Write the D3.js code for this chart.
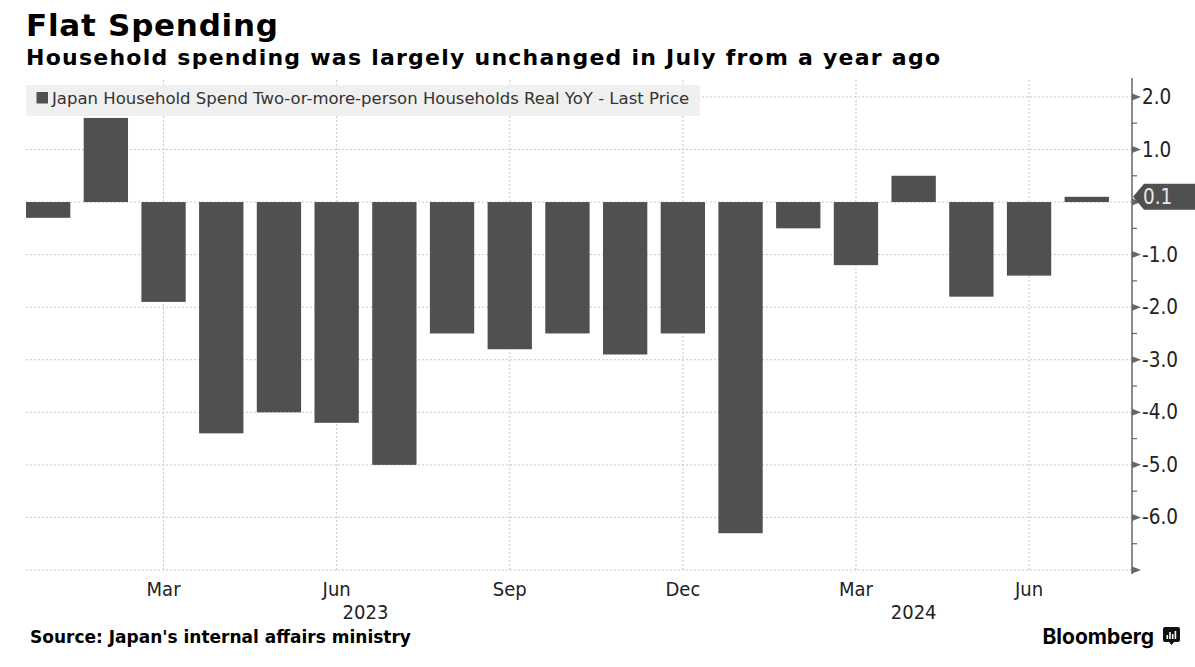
<!DOCTYPE html>
<html>
<head>
<meta charset="utf-8">
<script src="https://cdn.jsdelivr.net/npm/d3@7"></script>
<style>
  body { margin: 0; background: #fff; }
  svg { display: block; }
</style>
</head>
<body>
<svg id="chart" width="1195" height="667"></svg>
<script>
// monthly readings, Jan 2023 .. Jul 2024
const months = ["Jan 2023", "Feb 2023", "Mar 2023", "Apr 2023", "May 2023", "Jun 2023",
  "Jul 2023", "Aug 2023", "Sep 2023", "Oct 2023", "Nov 2023", "Dec 2023",
  "Jan 2024", "Feb 2024", "Mar 2024", "Apr 2024", "May 2024", "Jun 2024", "Jul 2024"];
const values = [-0.3, 1.6, -1.9, -4.4, -4.0, -4.2, -5.0, -2.5, -2.8, -2.5, -2.9, -2.5,
  -6.3, -0.5, -1.2, 0.5, -1.8, -1.4, 0.1];
const years = ["2023", "2024"];
const xTicks = ["Mar 2023", "Jun 2023", "Sep 2023", "Dec 2023", "Mar 2024", "Jun 2024"];
const yTicks = [-7, -6, -5, -4, -3, -2, -1, 0, 1, 2];
const yMinor = [-6.5, -5.5, -4.5, -3.5, -2.5, -1.5, -0.5, 0.5, 1.5];

const svg = d3.select("#chart");
const barColor = "#505050";
const narrow = "'DejaVu Sans Condensed', 'DejaVu Sans', sans-serif";
const plain = "'DejaVu Sans', sans-serif";

const left = 26, axisX = 1132;

const x = d3.scaleBand()
    .domain(months)
    .range([19.3, 1115.6])
    .paddingInner(0.232)
    .paddingOuter(0.116);

const y = d3.scaleLinear()
    .domain([-7, 2.36])
    .range([570, 78]);

const fmt = d3.formatLocale({decimal: ".", thousands: ",", grouping: [3], currency: ["", ""], minus: "-"}).format(".1f");

// title block
svg.append("text")
    .attr("x", 26).attr("y", 36)
    .attr("font-family", plain).attr("font-weight", "bold")
    .attr("font-size", 31).attr("fill", "#000")
    .attr("textLength", 252).attr("lengthAdjust", "spacing")
    .text("Flat Spending");

svg.append("text")
    .attr("x", 26).attr("y", 65)
    .attr("font-family", plain).attr("font-weight", "bold")
    .attr("font-size", 22).attr("fill", "#000")
    .attr("textLength", 914).attr("lengthAdjust", "spacing")
    .text("Household spending was largely unchanged in July from a year ago");

// gridlines
const grid = svg.append("g").attr("stroke", "#c8c8c8").attr("stroke-dasharray", "2,2");
grid.selectAll("line.h")
    .data(yTicks)
    .enter().append("line")
    .attr("x1", left).attr("x2", axisX)
    .attr("y1", d => y(d)).attr("y2", d => y(d));
grid.selectAll("line.v")
    .data(xTicks)
    .enter().append("line")
    .attr("x1", d => x(d) + x.bandwidth() / 2).attr("x2", d => x(d) + x.bandwidth() / 2)
    .attr("y1", 80).attr("y2", 570);

// bars
svg.append("g").selectAll("rect")
    .data(values)
    .enter().append("rect")
    .attr("x", (d, i) => x(months[i]))
    .attr("width", x.bandwidth())
    .attr("y", d => y(Math.max(0, d)))
    .attr("height", d => Math.abs(y(d) - y(0)))
    .attr("fill", barColor);

// legend
const legend = svg.append("g");
legend.append("rect")
    .attr("x", left).attr("y", 85).attr("width", 674).attr("height", 31)
    .attr("fill", "#eeeeee").attr("opacity", 0.9);
legend.append("rect")
    .attr("x", 36.5).attr("y", 92).attr("width", 11.5).attr("height", 11.5)
    .attr("fill", barColor);
legend.append("text")
    .attr("x", 52).attr("y", 104)
    .attr("font-family", plain).attr("font-size", 16.5).attr("fill", "#333")
    .text("Japan Household Spend Two-or-more-person Households Real YoY - Last Price");

// y axis on the right (0 label sits under the last-value tag)
const yAxis = svg.append("g")
    .attr("transform", `translate(${axisX},0)`)
    .call(d3.axisRight(y).tickValues(yTicks).tickSize(0).tickPadding(10)
        .tickFormat(d => (d === -7 || d === 0) ? "" : fmt(d)));
yAxis.select(".domain").remove();
yAxis.selectAll("text")
    .attr("font-family", narrow).attr("font-size", 20.5).attr("fill", "#222");

svg.append("line")
    .attr("x1", axisX).attr("x2", axisX)
    .attr("y1", 78).attr("y2", 574)
    .attr("stroke", "#666").attr("stroke-width", 1.5);

svg.append("g").selectAll("path")
    .data(yTicks)
    .enter().append("path")
    .attr("d", d => `M${axisX},${y(d) - 3.5}L${axisX + 9},${y(d)}L${axisX},${y(d) + 3.5}Z`)
    .attr("fill", "#666");

svg.append("g").selectAll("line")
    .data(yMinor)
    .enter().append("line")
    .attr("x1", axisX).attr("x2", axisX + 5)
    .attr("y1", d => y(d)).attr("y2", d => y(d))
    .attr("stroke", "#666").attr("stroke-width", 1.2);

// last value tag
const last = values[values.length - 1];
const ly = y(last);
svg.append("path")
    .attr("d", `M${axisX + 1},${ly}L${axisX + 12},${ly - 13}L1195,${ly - 13}L1195,${ly + 13}L${axisX + 12},${ly + 13}Z`)
    .attr("fill", barColor);
svg.append("text")
    .attr("x", axisX + 11).attr("y", ly)
    .attr("dy", "0.35em")
    .attr("font-family", narrow).attr("font-size", 20.5).attr("fill", "#e8e8e8")
    .text(fmt(last));

// x axis labels
const xAxis = svg.append("g")
    .attr("transform", "translate(0,570)")
    .call(d3.axisBottom(x).tickValues(xTicks).tickSize(0).tickPadding(12)
        .tickFormat(d => d.split(" ")[0]));
xAxis.select(".domain").remove();
xAxis.selectAll("text")
    .attr("font-family", narrow).attr("font-size", 20).attr("fill", "#222");

svg.append("g").selectAll("text")
    .data(years)
    .enter().append("text")
    .attr("x", yr => {
        const ms = months.filter(m => m.endsWith(yr));
        return (x(ms[0]) + x(ms[ms.length - 1]) + x.bandwidth()) / 2;
    })
    .attr("y", 619)
    .attr("text-anchor", "middle")
    .attr("font-family", narrow).attr("font-size", 20).attr("fill", "#222")
    .text(yr => yr);

// footer
svg.append("text")
    .attr("x", 30).attr("y", 643)
    .attr("font-family", plain).attr("font-weight", "bold")
    .attr("font-size", 17).attr("fill", "#000")
    .text("Source: Japan's internal affairs ministry");

svg.append("text")
    .attr("x", 1154).attr("y", 644)
    .attr("text-anchor", "end")
    .attr("font-family", "Inter, Roboto, sans-serif").attr("font-weight", "bold")
    .attr("font-size", 21).attr("fill", "#000")
    .text("Bloomberg");

const logo = svg.append("g").attr("transform", "translate(1163,627)");
logo.append("path")
    .attr("d", "M2,0H15Q17,0 17,2V13Q17,15 15,15H11L8.5,18L6,15H2Q0,15 0,13V2Q0,0 2,0Z")
    .attr("fill", "#111");
logo.selectAll("rect")
    .data([4, 7, 5, 8])
    .enter().append("rect")
    .attr("x", (d, i) => 3.5 + i * 2.7).attr("y", d => 12 - d)
    .attr("width", 1.6).attr("height", d => d)
    .attr("fill", "#fff");
</script>
</body>
</html>
